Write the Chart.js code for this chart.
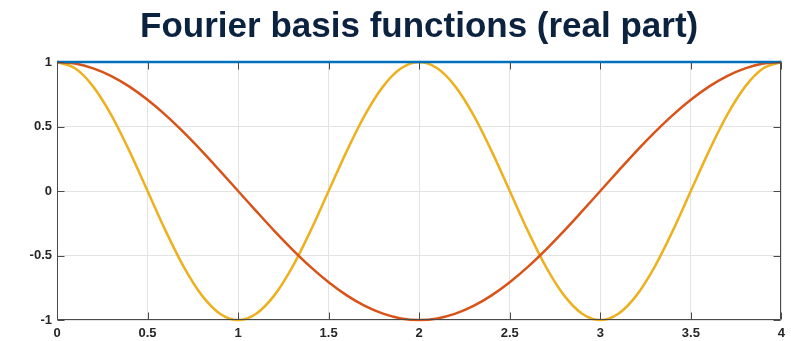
<!DOCTYPE html>
<html><head><meta charset="utf-8">
<script src="https://cdn.jsdelivr.net/npm/chart.js@4/dist/chart.umd.min.js"></script>
<style>html,body{margin:0;padding:0;background:#fff}#wrap{width:791px;height:341px;position:relative}</style>
</head><body><div id="wrap"><canvas id="c" width="791" height="341"></canvas></div>
<script>
const titleText = "Fourier basis functions (real part)";
const xValues = [0,0.1,0.2,0.3,0.4,0.5,0.6,0.7,0.8,0.9,1,1.1,1.2,1.3,1.4,1.5,1.6,1.7,1.8,1.9,2,2.1,2.2,2.3,2.4,2.5,2.6,2.7,2.8,2.9,3,3.1,3.2,3.3,3.4,3.5,3.6,3.7,3.8,3.9,4];
const basis0 = [1,1,1,1,1,1,1,1,1,1,1,1,1,1,1,1,1,1,1,1,1,1,1,1,1,1,1,1,1,1,1,1,1,1,1,1,1,1,1,1,1];
const basis1 = [1,0.988,0.951,0.891,0.809,0.707,0.588,0.454,0.309,0.156,0,-0.156,-0.309,-0.454,-0.588,-0.707,-0.809,-0.891,-0.951,-0.988,-1,-0.988,-0.951,-0.891,-0.809,-0.707,-0.588,-0.454,-0.309,-0.156,0,0.156,0.309,0.454,0.588,0.707,0.809,0.891,0.951,0.988,1];
const basis2 = [1,0.951,0.809,0.588,0.309,0,-0.309,-0.588,-0.809,-0.951,-1,-0.951,-0.809,-0.588,-0.309,0,0.309,0.588,0.809,0.951,1,0.951,0.809,0.588,0.309,0,-0.309,-0.588,-0.809,-0.951,-1,-0.951,-0.809,-0.588,-0.309,0,0.309,0.588,0.809,0.951,1];
const xTicks = [0,0.5,1,1.5,2,2.5,3,3.5,4];
const yTicks = [-1,-0.5,0,0.5,1];

const pts = arr => xValues.map((x,i)=>({x:x,y:arr[i]}));
const axisColor = '#4a4a4a';
const fmt = v => String(v);

const boxPlugin = {
  id:'box',
  afterDatasetsDraw(chart){
    const {ctx, chartArea:a, scales:{x,y}} = chart;
    ctx.save();
    ctx.strokeStyle = axisColor; ctx.lineWidth = 1;
    ctx.beginPath();
    const L=Math.round(a.left)+0.5, R=Math.round(a.right)-0.5, T=Math.round(a.top)+0.5, B=Math.round(a.bottom)-0.5;
    ctx.moveTo(L,T); ctx.lineTo(L,B); ctx.lineTo(R,B); ctx.lineTo(R,T);
    const tl = 7;
    xTicks.forEach(v=>{const px=Math.round(x.getPixelForValue(v))+0.5; ctx.moveTo(px,B); ctx.lineTo(px,B-tl); ctx.moveTo(px,T); ctx.lineTo(px,T+tl);});
    yTicks.forEach(v=>{const py=Math.round(y.getPixelForValue(v))+0.5; ctx.moveTo(L,py); ctx.lineTo(L+tl,py); ctx.moveTo(R,py); ctx.lineTo(R-tl,py);});
    ctx.stroke();
    ctx.restore();
  }
};

new Chart(document.getElementById('c'), {
  type:'line',
  data:{datasets:[
    {data:pts(basis2), borderColor:'#EDB120', borderWidth:2.5, pointRadius:0, cubicInterpolationMode:'monotone', clip:false, order:3},
    {data:pts(basis1), borderColor:'#D95319', borderWidth:2.5, pointRadius:0, cubicInterpolationMode:'monotone', clip:false, order:2},
    {data:pts(basis0), borderColor:'#0072BD', borderWidth:2.5, pointRadius:0, clip:false, order:1}
  ]},
  options:{
    responsive:false, animation:false, devicePixelRatio:1,
    layout:{padding:{left:0,right:9,top:0,bottom:0}},
    plugins:{
      legend:{display:false}, tooltip:{enabled:false},
      title:{display:true, fullSize:false, text:titleText, color:'#0c2340',
        font:{family:'"Liberation Sans", Arial, sans-serif', size:35, weight:'bold', lineHeight:1.2},
        padding:{top:6,bottom:14}}
    },
    scales:{
      x:{type:'linear', min:0, max:4,
        afterBuildTicks(s){s.ticks = xTicks.map(v=>({value:v}));},
        afterFit(s){s.height=21;},
        grid:{color:'#e3e3e3', drawTicks:false},
        border:{display:false},
        ticks:{padding:6, color:'#262626', maxRotation:0, callback:fmt, font:{family:'"Liberation Sans", Arial, sans-serif', size:13, weight:'bold'}}},
      y:{type:'linear', min:-1, max:1,
        afterBuildTicks(s){s.ticks = yTicks.map(v=>({value:v}));},
        afterFit(s){s.width=57;},
        grid:{color:'#e3e3e3', drawTicks:false},
        border:{display:false},
        ticks:{padding:5, color:'#262626', callback:fmt, font:{family:'"Liberation Sans", Arial, sans-serif', size:13, weight:'bold'}}}
    }
  },
  plugins:[boxPlugin]
});
</script></body></html>
